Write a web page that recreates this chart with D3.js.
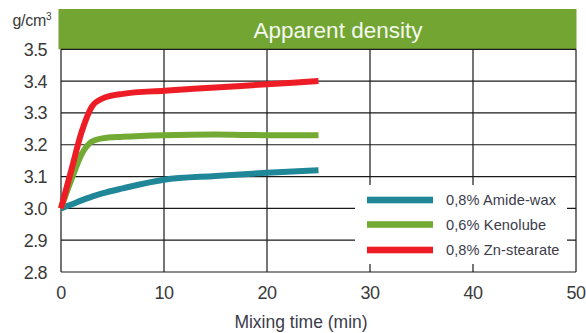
<!DOCTYPE html>
<html>
<head>
<meta charset="utf-8">
<script src="https://cdn.jsdelivr.net/npm/d3@7"></script>
<style>
  html, body { margin: 0; padding: 0; background: #fff; }
  svg { display: block; font-family: "Liberation Sans", Arial, sans-serif; }
</style>
</head>
<body>
<svg id="chart" width="586" height="333"></svg>
<script>
// Mixing time (min) at which apparent density was sampled
const time = [0, 1, 2, 3, 4, 6, 10, 15, 20, 25];
// Apparent density, g/cm3, per lubricant
const amideWax   = [3.00, 3.012, 3.025, 3.037, 3.047, 3.063, 3.09, 3.102, 3.112, 3.12];
const kenolube   = [3.00, 3.09, 3.17, 3.21, 3.22, 3.225, 3.23, 3.232, 3.23, 3.23];
const znStearate = [3.00, 3.12, 3.24, 3.32, 3.345, 3.36, 3.37, 3.38, 3.39, 3.40];

const seriesNames  = ["0,8% Amide-wax", "0,6% Kenolube", "0,8% Zn-stearate"];
const seriesColors = ["#1f8797", "#73aa33", "#ee1d25"];

const xTicks = [0, 10, 20, 30, 40, 50];
const yTicks = [2.8, 2.9, 3.0, 3.1, 3.2, 3.3, 3.4, 3.5];
const yTickLabels = ["2.8", "2.9", "3.0", "3.1", "3.2", "3.3", "3.4", "3.5"];

const title = "Apparent density";
const yUnit = "g/cm";
const xTitle = "Mixing time (min)";

const svg = d3.select("#chart");
const x = d3.scaleLinear().domain([0, 50]).range([61, 576]);
const y = d3.scaleLinear().domain([2.8, 3.5]).range([272, 49.3]);

// Title banner
svg.append("rect")
  .attr("x", 58.5).attr("y", 9).attr("width", 518).attr("height", 40.3)
  .attr("fill", "#72a532");
svg.append("text")
  .attr("x", 338).attr("y", 38)
  .attr("text-anchor", "middle")
  .attr("fill", "#f4f8ee")
  .attr("font-size", 22.5)
  .text(title);

// Grid
const grid = svg.append("g").attr("stroke", "#1a1a1a").attr("stroke-width", 1.2);
yTicks.forEach(v => {
  grid.append("line")
    .attr("x1", x(0)).attr("x2", x(50))
    .attr("y1", y(v)).attr("y2", y(v));
});
xTicks.forEach(v => {
  grid.append("line")
    .attr("x1", x(v)).attr("x2", x(v))
    .attr("y1", y(3.5)).attr("y2", y(2.8));
});

// Axis labels
const tickCol = "#3a3a3a";
svg.append("g").selectAll("text").data(yTicks).join("text")
  .attr("x", 47).attr("y", d => y(d) + 6.5)
  .attr("text-anchor", "end")
  .attr("fill", tickCol)
  .attr("font-size", 18)
  .attr("letter-spacing", -0.6)
  .text((d, i) => yTickLabels[i]);

svg.append("g").selectAll("text").data(xTicks).join("text")
  .attr("x", d => x(d)).attr("y", 298.5)
  .attr("text-anchor", "middle")
  .attr("fill", tickCol)
  .attr("font-size", 18)
  .attr("letter-spacing", -0.6)
  .text(d => d);

const unit = svg.append("text")
  .attr("x", 12.5).attr("y", 26)
  .attr("fill", tickCol)
  .attr("font-size", 16)
  .attr("letter-spacing", -0.3)
  .text(yUnit);
unit.append("tspan").attr("dy", -6).attr("font-size", 10).text("3");

svg.append("text")
  .attr("x", 301).attr("y", 328)
  .attr("text-anchor", "middle")
  .attr("fill", "#3b3b4a")
  .attr("font-size", 17.5)
  .text(xTitle);

// Data lines
const seriesData = [amideWax, kenolube, znStearate];
const line = d3.line()
  .x((d, i) => x(time[i]))
  .y(d => y(d))
  .curve(d3.curveMonotoneX);

svg.append("g").selectAll("path").data(seriesData).join("path")
  .attr("d", d => line(d))
  .attr("fill", "none")
  .attr("stroke", (d, i) => seriesColors[i])
  .attr("stroke-width", 6)
  .attr("stroke-linejoin", "round");

// Legend
svg.append("rect")
  .attr("x", 355).attr("y", 185).attr("width", 212).attr("height", 79)
  .attr("fill", "#fff");
const legendY = [200, 224.5, 250];
const lg = svg.append("g");
seriesNames.forEach((name, i) => {
  lg.append("rect")
    .attr("x", 367).attr("y", legendY[i] - 3.3)
    .attr("width", 66).attr("height", 6.6)
    .attr("fill", seriesColors[i]);
  lg.append("text")
    .attr("x", 446).attr("y", legendY[i] + 5)
    .attr("fill", "#3b3b4a")
    .attr("font-size", 14.6)
    .attr("letter-spacing", 0.1)
    .text(name);
});
</script>
</body>
</html>
